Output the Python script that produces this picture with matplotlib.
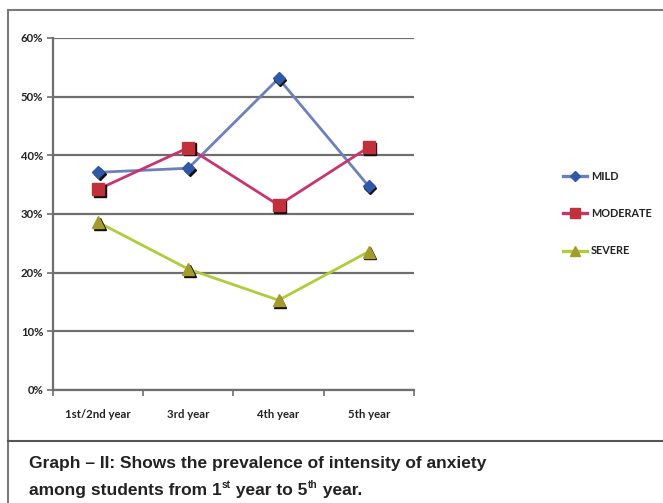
import matplotlib
matplotlib.use("Agg")
import matplotlib.pyplot as plt
from matplotlib.lines import Line2D
from matplotlib.transforms import offset_copy
from matplotlib.ticker import FuncFormatter

years = ["1st/2nd year", "3rd year", "4th year", "5th year"]
mild = [37.1, 37.8, 53.1, 34.7]
moderate = [34.2, 41.3, 31.5, 41.4]
severe = [28.6, 20.6, 15.3, 23.6]
y_ticks = [0, 10, 20, 30, 40, 50, 60]

GRID = "#6e6e6e"
FRAME = "#7a7a7a"
TEXT = "#222222"
TICK_FONT = ["Lato", "DejaVu Sans"]
CAPTION_FONT = ["Liberation Sans Narrow", "Liberation Sans"]

fig = plt.figure(figsize=(6.63, 5.03), dpi=100)
ax = fig.add_axes([0.0799, 0.2247, 0.5445, 0.6998])

x = range(len(years))
series = [
    ("MILD", mild, "#6d80bb", "#2f58a8", "D", 6.5),
    ("MODERATE", moderate, "#c8346f", "#c1303b", "s", 8.5),
    ("SEVERE", severe, "#aecd3a", "#a49a2e", "^", 8),
]

shadow = offset_copy(ax.transData, fig=fig, x=1.6, y=-1.6, units="dots")
for name, vals, line_c, mark_c, mk, ms in series:
    ax.plot(x, vals, color=line_c, lw=2.0, zorder=3)
    ax.plot(x, vals, ls="none", marker=mk, ms=ms, color="#111111",
            mec="#111111", transform=shadow, zorder=4)
    ax.plot(x, vals, ls="none", marker=mk, ms=ms, color=mark_c,
            mec=mark_c, zorder=5)

# legend built from proxy handles so the line runs through the marker
handles = [Line2D([], [], color=lc, lw=2.4, marker=mk, ms=ms * 0.85,
                  mfc=mc, mec=mc)
           for _, _, lc, mc, mk, ms in series]
leg = fig.legend(handles, [s[0] for s in series], loc="upper left",
                 bbox_to_anchor=(0.834, 0.680), frameon=False,
                 handlelength=2.2, handletextpad=0.4, labelspacing=2.43,
                 prop={"family": TICK_FONT, "weight": "bold", "size": 7.8})
for t in leg.get_texts():
    t.set_color(TEXT)

ax.set_xlim(-0.5, len(years) - 0.5)
ax.set_ylim(0, 60)
ax.set_yticks(y_ticks)
ax.yaxis.set_major_formatter(FuncFormatter(lambda v, _: f"{v:.0f}%"))
ax.grid(axis="y", color=GRID, lw=1.6, zorder=1)
ax.set_axisbelow(True)

# category boundaries get the tick marks, labels sit between them
ax.set_xticks([i - 0.5 for i in range(len(years) + 1)])
ax.set_xticklabels([])
ax.set_xticks(list(x), minor=True)
ax.set_xticklabels(years, minor=True)
ax.tick_params(axis="x", which="major", length=4, width=1.2, color=GRID,
               direction="out")
ax.tick_params(axis="x", which="minor", length=0, pad=14)
ax.tick_params(axis="y", length=4, width=1.2, color=GRID, pad=3)
for lab in ax.get_xticklabels(minor=True) + ax.get_yticklabels():
    lab.set_fontfamily(TICK_FONT)
    lab.set_fontweight("bold")
    lab.set_fontsize(8.2)
    lab.set_color(TEXT)

for side in ["top", "right"]:
    ax.spines[side].set_visible(False)
for side in ["left", "bottom"]:
    ax.spines[side].set_color(GRID)
    ax.spines[side].set_linewidth(1.6)

# outer frame and caption divider
fig.add_artist(Line2D([0.012, 1.0], [0.980, 0.980], color=FRAME, lw=1.5))
fig.add_artist(Line2D([0.012, 0.012], [0.0, 0.980], color=FRAME, lw=1.5))
fig.add_artist(Line2D([0.012, 1.0], [0.1233, 0.1233], color="#555555", lw=1.5))

# caption, written piece by piece so the ordinal suffixes can be raised
CAP_SIZE = 12.5
SUP_SIZE = 7.3
x0 = 0.0437
y1 = 1 - 468 / 503
y2 = 1 - 495 / 503

fig.text(x0, y1, "Graph \u2013 II: Shows the prevalence of intensity of anxiety",
         family=CAPTION_FONT, weight="bold", size=CAP_SIZE, color=TEXT,
         va="baseline")

renderer = fig.canvas.get_renderer()
pieces = [("among students from 1", False), ("st", True),
          (" year to 5", False), ("th", True), (" year.", False)]
cur = x0
for txt, sup in pieces:
    t = fig.text(cur, y2 + (0.014 if sup else 0), txt,
                 family=CAPTION_FONT, weight="bold",
                 size=SUP_SIZE if sup else CAP_SIZE, color=TEXT,
                 va="baseline")
    bb = t.get_window_extent(renderer=renderer)
    cur = bb.x1 / fig.bbox.width + (0.001 if sup else 0)

fig.savefig("out.png", dpi=100)
